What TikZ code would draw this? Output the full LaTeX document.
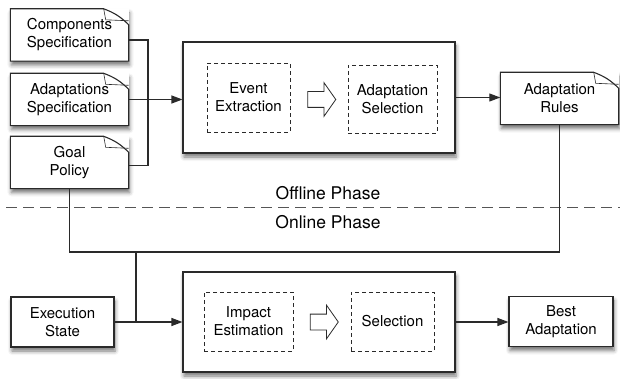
\documentclass[tikz,border=0pt]{standalone}
\usepackage{fontspec}
\setmainfont{TeX Gyre Heros}
\usetikzlibrary{calc,arrows.meta,shapes.arrows,shadows.blur}
\definecolor{ink}{HTML}{2A2A2A}
\definecolor{sepgray}{HTML}{555555}

\begin{document}
\begin{tikzpicture}[
		x=1pt, y=-1pt,
		font=\fontsize{15}{18}\selectfont,
		line/.style={draw=ink, line width=1.1pt},
		arrow/.style={line, -{Triangle[length=11pt,width=8pt]}},
		shade/.style={blur shadow={shadow xshift=1pt,shadow yshift=-4pt,shadow blur radius=4pt,shadow opacity=55}},
		doc/.style={fill=white, shade, align=center, minimum width=118, minimum height=52},
		box/.style={draw=ink, line width=1.1pt, fill=white, shade, align=center, minimum width=104, minimum height=50},
		phase/.style={draw=ink, line width=1.1pt, fill=white, shade, minimum width=272},
		task/.style={draw=ink, dashed, dash pattern=on 4pt off 3pt, align=center, minimum height=#1},
		label/.style={font=\fontsize{17.5}{20}\selectfont},
		hollow/.style={shape=single arrow, draw=ink, line width=0.8pt, minimum height=28,
			inner xsep=0pt, inner ysep=7.5pt, single arrow head extend=9pt, single arrow tip angle=110}]
		\useasboundingbox (0,0) rectangle (620,379);
		\node[doc] (comp) at (69.5,35) {Components\\Specification};
		\node[doc] (adapt) at (69.5,99.5) {Adaptations\\Specification};
		\node[doc] (goal) at (69.5,162.5) {Goal\\Policy};
		\node[doc] (rules) at (559.5,98.5) {Adaptation\\Rules};
		\node[phase, minimum height=111] (offline) at (319,97.5) {};
		\node[task=69, minimum width=83] (event) at (248.5,97.5) {Event\\Extraction};
		\node[task=68, minimum width=89] (asel) at (392.5,99) {Adaptation\\Selection};
		\node[hollow] (ha) at (319,99.5) {};
		\node[box, minimum width=103] (exec) at (62.5,322) {Execution\\State};
		\node[phase, minimum height=100] (online) at (319,322) {};
		\node[task=59, minimum width=89] (impact) at (248.5,321.5) {Impact\\Estimation};
		\node[task=59, minimum width=83] (sel) at (392.5,321.5) {Selection};
		\node[hollow] (hb) at (321.5,322) {};
		\node[box] (best) at (561,321.5) {Best\\Adaptation};
		\foreach \n in {comp,adapt,goal,rules} {
			\draw[line] (\n.north west) -- ([xshift=-25pt]\n.north east) to[bend left=12] ([yshift=-16pt]\n.north east)
				-- (\n.south east) -- (\n.south west) -- cycle;
			\draw[ink, line width=0.6pt] ([xshift=-25pt]\n.north east) -- ([xshift=-23pt,yshift=-11pt]\n.north east)
				-- ([yshift=-12pt]\n.north east);
		}
		\coordinate (merge) at (148,99.5);
		\coordinate (bus) at (136,252);
		\coordinate (sepl) at (6,208);
		\coordinate (sepr) at (620,208);
		\node[label] (off) at (328,193) {Offline Phase};
		\node[label] (on) at (328,222) {Online Phase};
		\draw[sepgray, line width=1pt, dash pattern=on 11pt off 6pt] (sepl) -- (sepr);
		\draw[line] ([yshift=-5pt]comp.east) -| (merge) |- ([yshift=-3pt]goal.east);
		\draw[arrow] (adapt.east) -- (adapt.east -| offline.west);
		\draw[arrow] (offline.east) -- (offline.east -| rules.west);
		\draw[line] (rules.south) |- (bus) -| (goal.south);
		\draw[line] (bus) -- (bus |- exec.east);
		\draw[arrow] (exec.east) -- (online.west);
		\draw[arrow] (online.east) -- (online.east -| best.west);
\end{tikzpicture}
\end{document}
